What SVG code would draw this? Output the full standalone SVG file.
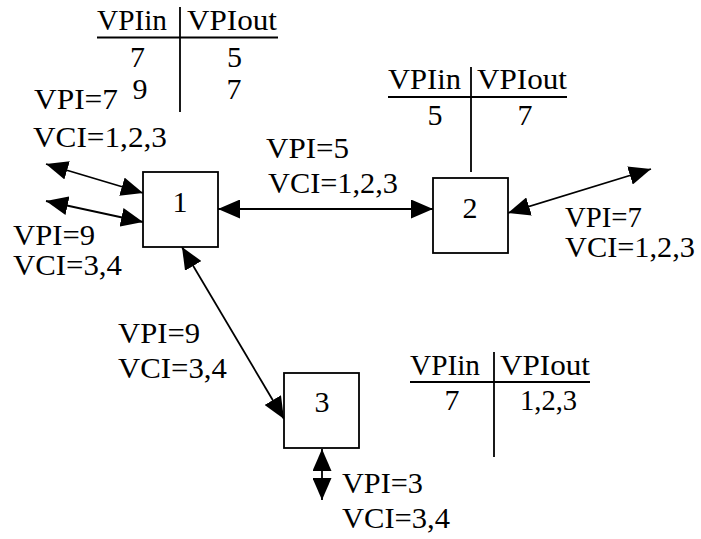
<svg xmlns="http://www.w3.org/2000/svg" width="701" height="539" viewBox="0 0 701 539">
  <style>
    text { font-family: "Liberation Serif", "Times New Roman", serif; font-size: 30px; fill: #000; }
    .mid { text-anchor: middle; }
    .rule { stroke: #000; stroke-width: 1.8; fill: none; }
    .link { stroke: #000; stroke-width: 1.8; fill: none; marker-start: url(#head); marker-end: url(#head); }
    .box { fill: #fff; stroke: #000; stroke-width: 1.8; }
  </style>
  <defs>
    <marker id="head" viewBox="0 0 22 19" refX="22" refY="9.5" markerWidth="22" markerHeight="19" markerUnits="userSpaceOnUse" orient="auto-start-reverse">
      <path d="M0,0 L22,9.5 L0,19 z" fill="#000"/>
    </marker>
  </defs>
  <rect width="701" height="539" fill="#fff"/>

  <!-- connectors -->
  <g id="connectors">
    <line class="link" x1="46" y1="164" x2="143" y2="193"/>
    <line class="link" x1="46" y1="201" x2="143" y2="222"/>
    <line class="link" x1="218" y1="209" x2="433" y2="209"/>
    <line class="link" x1="508" y1="213" x2="651" y2="169"/>
    <line class="link" x1="182" y1="247" x2="284" y2="419"/>
    <line class="link" x1="322" y1="449" x2="322" y2="500"/>
  </g>

  <!-- switches -->
  <g id="node1">
    <rect class="box" x="143" y="172" width="75" height="75"/>
    <text class="mid" x="180" y="212">1</text>
  </g>
  <g id="node2">
    <rect class="box" x="433" y="178" width="75" height="75"/>
    <text class="mid" x="470" y="218">2</text>
  </g>
  <g id="node3">
    <rect class="box" x="284" y="373" width="75" height="75"/>
    <text class="mid" x="322" y="412">3</text>
  </g>

  <!-- translation tables -->
  <g id="table1">
    <line class="rule" x1="97" y1="37.5" x2="278" y2="37.5"/>
    <line class="rule" x1="180" y1="7" x2="180" y2="112"/>
    <text x="97" y="30" textLength="70" lengthAdjust="spacingAndGlyphs">VPIin</text>
    <text x="187" y="30" textLength="90" lengthAdjust="spacingAndGlyphs">VPIout</text>
    <text class="mid" x="137.5" y="67">7</text>
    <text class="mid" x="234.5" y="67">5</text>
    <text class="mid" x="140" y="99">9</text>
    <text class="mid" x="234" y="99">7</text>
  </g>
  <g id="table2">
    <line class="rule" x1="388" y1="97" x2="567" y2="97"/>
    <line class="rule" x1="471" y1="67" x2="471" y2="172"/>
    <text x="388" y="89" textLength="73" lengthAdjust="spacingAndGlyphs">VPIin</text>
    <text x="477" y="89" textLength="90" lengthAdjust="spacingAndGlyphs">VPIout</text>
    <text class="mid" x="435" y="125">5</text>
    <text class="mid" x="525" y="125">7</text>
  </g>
  <g id="table3">
    <line class="rule" x1="410" y1="382" x2="590" y2="382"/>
    <line class="rule" x1="494" y1="352" x2="494" y2="457"/>
    <text x="410" y="375" textLength="70" lengthAdjust="spacingAndGlyphs">VPIin</text>
    <text x="500" y="375" textLength="90" lengthAdjust="spacingAndGlyphs">VPIout</text>
    <text class="mid" x="452" y="410">7</text>
    <text x="520" y="410" textLength="57" lengthAdjust="spacingAndGlyphs">1,2,3</text>
  </g>

  <!-- link labels -->
  <g id="labels">
    <text x="34" y="109" textLength="84" lengthAdjust="spacingAndGlyphs">VPI=7</text>
    <text x="33" y="147" textLength="134" lengthAdjust="spacingAndGlyphs">VCI=1,2,3</text>
    <text x="13" y="245" textLength="82" lengthAdjust="spacingAndGlyphs">VPI=9</text>
    <text x="13" y="275" textLength="109" lengthAdjust="spacingAndGlyphs">VCI=3,4</text>
    <text x="266" y="158" textLength="83" lengthAdjust="spacingAndGlyphs">VPI=5</text>
    <text x="268" y="193" textLength="130" lengthAdjust="spacingAndGlyphs">VCI=1,2,3</text>
    <text x="565" y="227" textLength="77" lengthAdjust="spacingAndGlyphs">VPI=7</text>
    <text x="565" y="257" textLength="130" lengthAdjust="spacingAndGlyphs">VCI=1,2,3</text>
    <text x="118" y="343" textLength="82" lengthAdjust="spacingAndGlyphs">VPI=9</text>
    <text x="118" y="378" textLength="109" lengthAdjust="spacingAndGlyphs">VCI=3,4</text>
    <text x="342" y="493" textLength="81" lengthAdjust="spacingAndGlyphs">VPI=3</text>
    <text x="342" y="528" textLength="108" lengthAdjust="spacingAndGlyphs">VCI=3,4</text>
  </g>
</svg>
